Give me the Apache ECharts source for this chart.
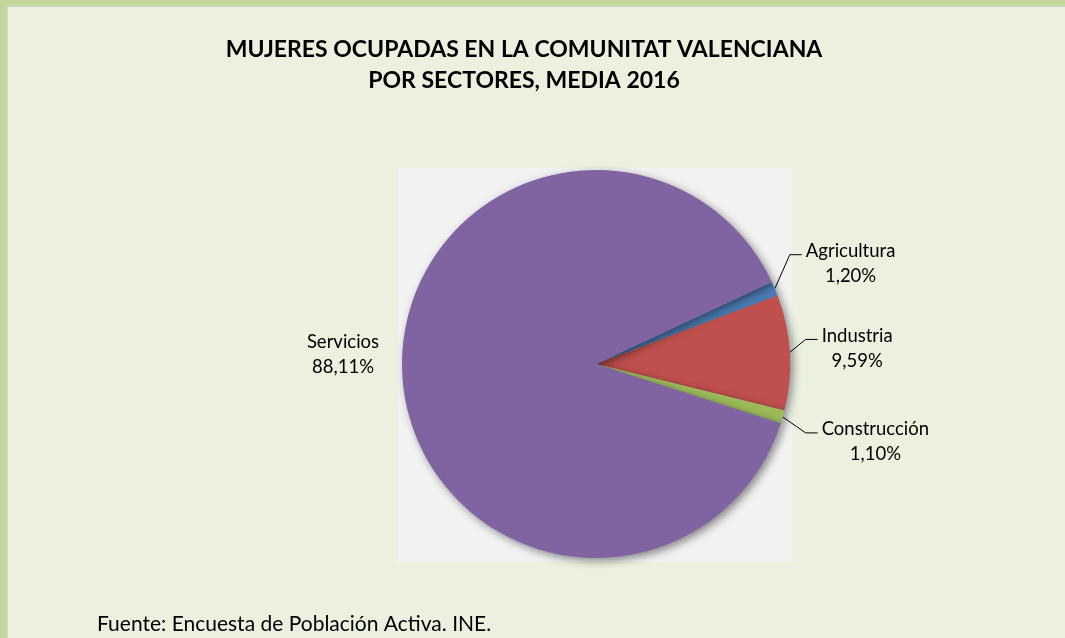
<!DOCTYPE html>
<html>
<head>
<meta charset="utf-8">
<script src="https://cdn.jsdelivr.net/npm/echarts@6/dist/echarts.min.js"></script>
<style>
  html, body { margin: 0; padding: 0; background: #EBF1DE; overflow: hidden; }
  #chart { width: 1065px; height: 638px; }
</style>
</head>
<body>
<div id="chart"></div>
<script>
// ---- data ----
const categories = ['Agricultura', 'Industria', 'Construcción', 'Servicios'];
const shares = [1.20, 9.59, 1.10, 88.11];
const sliceColors = ['#4F81BD', '#C0504D', '#9BBB59', '#8064A2'];
const titleLines = ['MUJERES OCUPADAS EN LA COMUNITAT VALENCIANA', 'POR SECTORES, MEDIA 2016'];
const sourceText = 'Fuente: Encuesta de Población Activa. INE.';

// ---- layout ----
const CX = 596, CY = 364, R = 194;
const FONT = 'Lato, "Liberation Sans", sans-serif';
// offset of each label's left/middle from its anchor on the pie edge
const labelOffsets = [[31, -25], [32, -4], [39, 25], null];

function fmt(v) { return v.toFixed(2).replace('.', ',') + '%'; }

const chart = echarts.init(document.getElementById('chart'), null, { renderer: 'canvas' });

const data = categories.map((c, i) => ({
  name: c,
  value: shares[i],
  itemStyle: { color: sliceColors[i] },
  labelLine: { show: i !== 3 }
}));

chart.setOption({
  backgroundColor: '#EBF1DE',
  animation: false,
  title: [
    {
      text: titleLines.join('\n'),
      left: 519, top: 29, textAlign: 'center',
      textStyle: { fontFamily: FONT, fontSize: 23, fontWeight: 'bold', color: '#000', lineHeight: 31 }
    },
    {
      text: sourceText,
      left: 92, top: 609,
      textStyle: { fontFamily: FONT, fontSize: 21, fontWeight: 'normal', color: '#000' }
    }
  ],
  graphic: [
    { type: 'rect', shape: { x: 398, y: 168, width: 394, height: 394 }, style: { fill: '#F2F2F2' }, z: -1 },
    { type: 'rect', shape: { x: 1050, y: 7, width: 15, height: 631 }, style: { fill: '#EBF1DE' }, z: 5 },
    { type: 'rect', shape: { x: 0, y: 0, width: 1065, height: 6 }, style: { fill: '#C4D79B' }, z: 6 },
    { type: 'rect', shape: { x: 0, y: 0, width: 7, height: 638 }, style: { fill: '#C4D79B' }, z: 6 },
    { type: 'rect', shape: { x: 7, y: 6, width: 1058, height: 1 }, style: { fill: '#D4D8CC' }, z: 6 },
    { type: 'rect', shape: { x: 7, y: 6, width: 1, height: 632 }, style: { fill: '#D4D8CC' }, z: 6 }
  ],
  series: [{
    type: 'pie',
    center: [CX, CY],
    radius: R,
    startAngle: 25,
    clockwise: true,
    data: data,
    itemStyle: {
      shadowBlur: 8, shadowOffsetX: 3, shadowOffsetY: 3, shadowColor: 'rgba(0,0,0,0.45)'
    },
    label: {
      show: true,
      position: 'outside',
      color: '#000',
      fontFamily: FONT,
      fontSize: 18.5,
      formatter: p => '{t|' + p.name + '}\n{t|' + fmt(p.value) + '}',
      rich: {
        t: { align: 'center', fontFamily: FONT, fontSize: 18.5, lineHeight: 25, color: '#000' }
      }
    },
    labelLine: {
      show: true, length: 10, length2: 12,
      lineStyle: { color: '#000', width: 1 }
    },
    emphasis: { disabled: true },
    labelLayout: function (params) {
      const i = params.dataIndex;
      const off = labelOffsets[i];
      if (!off) {
        return { x: CX - R - 59, y: CY - 9, align: 'center', verticalAlign: 'middle' };
      }
      const a = params.labelLinePoints[0];
      const x = a[0] + off[0];
      const y = a[1] + off[1];
      return {
        x: x, y: y, align: 'left', verticalAlign: 'middle',
        labelLinePoints: [[a[0], a[1]], [x - 16, y - 9], [x - 4, y - 9]]
      };
    }
  }]
});
</script>
</body>
</html>
